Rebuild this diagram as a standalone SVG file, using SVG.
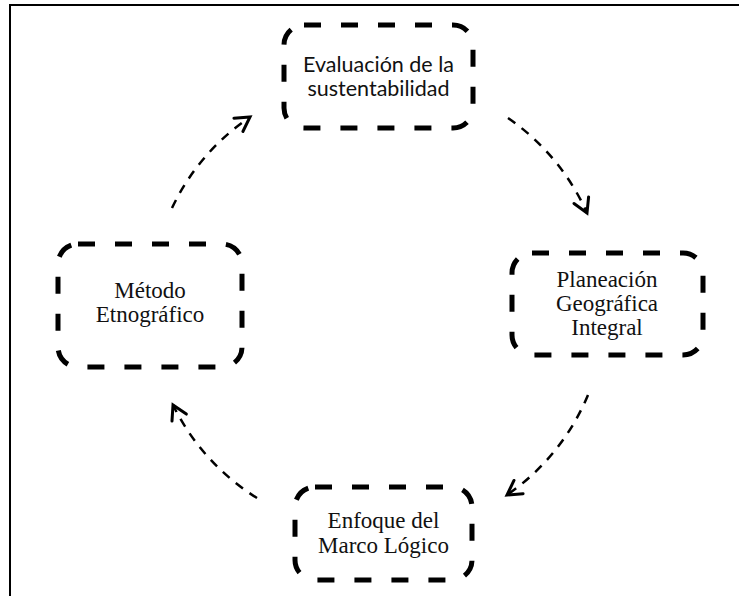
<svg xmlns="http://www.w3.org/2000/svg" width="739" height="596" viewBox="0 0 739 596">
<defs>
<style>
.box{fill:#fff;stroke:#000;stroke-width:5;stroke-dasharray:17 20;}
.conn{fill:none;stroke:#000;stroke-width:2.5;stroke-dasharray:9 8;}
.sans{font-family:Lato,"Open Sans","Liberation Sans",sans-serif;font-size:21.5px;fill:#111;text-anchor:middle;}
.serif{font-family:"Liberation Serif","Times New Roman",serif;font-size:23px;fill:#111;text-anchor:middle;}
</style>
<marker id="arr" markerUnits="userSpaceOnUse" markerWidth="30" markerHeight="30" refX="0" refY="0" viewBox="-20 -15 30 30" orient="auto" overflow="visible">
<path d="M -14 -8 L 0 0 L -14 8" fill="none" stroke="#000" stroke-width="3" stroke-dasharray="none" stroke-linecap="round" stroke-linejoin="miter"/>
</marker>
</defs>
<rect width="739" height="596" fill="#fff"/>
<g id="frame" stroke="#000" stroke-width="2" fill="none">
<line x1="9" y1="5" x2="739" y2="5"/>
<line x1="10" y1="4" x2="10" y2="596"/>
</g>
<g id="connectors">
<path class="conn" d="M 508 118 A 228 228 0 0 1 587 213" marker-end="url(#arr)"/>
<path class="conn" d="M 588 395 A 228 228 0 0 1 507 495" marker-end="url(#arr)"/>
<path class="conn" d="M 257 498 A 228 228 0 0 1 173 405" marker-end="url(#arr)"/>
<path class="conn" d="M 172 208 A 228 228 0 0 1 250 117" marker-end="url(#arr)"/>
</g>
<g id="node-evaluacion">
<rect class="box" x="284" y="25" width="189" height="103" rx="20"/>
<text class="sans" x="378.5" y="72">Evaluación de la</text>
<text class="sans" x="378.5" y="96">sustentabilidad</text>
</g>
<g id="node-planeacion">
<rect class="box" x="512" y="253" width="191" height="102" rx="20"/>
<text class="serif" x="607" y="287">Planeación</text>
<text class="serif" x="607" y="311">Geográfica</text>
<text class="serif" x="607" y="335">Integral</text>
</g>
<g id="node-enfoque">
<rect class="box" x="295" y="487" width="177" height="93" rx="20"/>
<text class="serif" x="383.5" y="528">Enfoque del</text>
<text class="serif" x="383.5" y="553">Marco Lógico</text>
</g>
<g id="node-metodo">
<rect class="box" x="58" y="244" width="184" height="123" rx="20"/>
<text class="serif" x="150" y="298">Método</text>
<text class="serif" x="150" y="322">Etnográfico</text>
</g>
</svg>
